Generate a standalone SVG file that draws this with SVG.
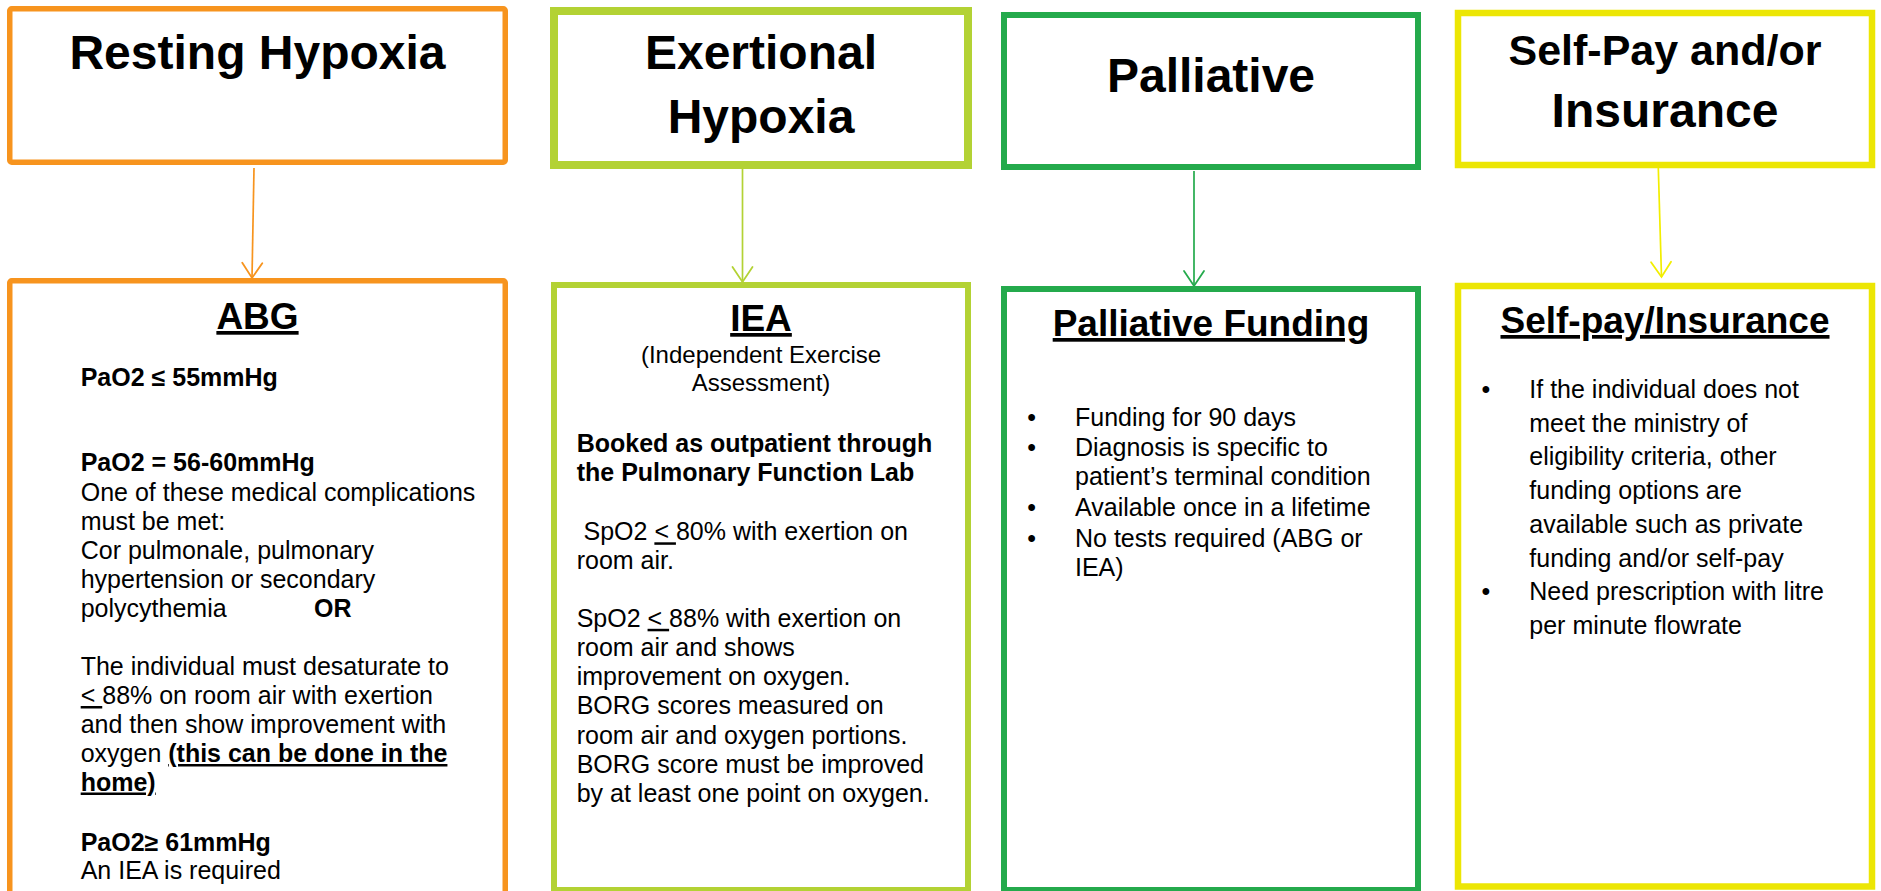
<svg xmlns="http://www.w3.org/2000/svg" width="1881" height="891" viewBox="0 0 1881 891">
  <style>
    text { font-family: "Liberation Sans", Arial, Helvetica, sans-serif; fill: #000; }
    .box { fill: #fff; }
    .orange { stroke: #F7941E; }
    .lime { stroke: #B3D234; }
    .green { stroke: #24AA4C; }
    .yellow { stroke: #ECE604; }
    .head { font-size: 48px; font-weight: bold; text-anchor: middle; }
    .sub { font-size: 37px; font-weight: bold; text-anchor: middle; text-decoration: underline; }
    .body { font-size: 25px; }
    .abg { font-size: 25px; }
    .b { font-weight: bold; }
    .u { text-decoration: underline; }
    .conn { fill: none; stroke-width: 1.7; }
  </style>
  <defs>
    <marker id="arrO" viewBox="-17 -12 19 24" refX="0" refY="0" markerWidth="19" markerHeight="24" markerUnits="userSpaceOnUse" orient="auto">
      <path d="M-15,-10 L0,0 L-15,10" fill="none" stroke="#F7941E" stroke-width="1.8" stroke-linecap="round"/>
    </marker>
    <marker id="arrL" viewBox="-17 -12 19 24" refX="0" refY="0" markerWidth="19" markerHeight="24" markerUnits="userSpaceOnUse" orient="auto">
      <path d="M-15,-10 L0,0 L-15,10" fill="none" stroke="#B3D234" stroke-width="1.8" stroke-linecap="round"/>
    </marker>
    <marker id="arrG" viewBox="-17 -12 19 24" refX="0" refY="0" markerWidth="19" markerHeight="24" markerUnits="userSpaceOnUse" orient="auto">
      <path d="M-15,-10 L0,0 L-15,10" fill="none" stroke="#24AA4C" stroke-width="1.8" stroke-linecap="round"/>
    </marker>
    <marker id="arrY" viewBox="-17 -12 19 24" refX="0" refY="0" markerWidth="19" markerHeight="24" markerUnits="userSpaceOnUse" orient="auto">
      <path d="M-15,-10 L0,0 L-15,10" fill="none" stroke="#F2EE00" stroke-width="1.8" stroke-linecap="round"/>
    </marker>
  </defs>

  <rect width="1881" height="891" fill="#fff"/>

  <!-- Top boxes -->
  <g id="resting-hypoxia">
    <rect class="box orange" x="9.75" y="8.75" width="495.5" height="153.5" rx="2" stroke-width="5.5"/>
    <text class="head" x="257.5" y="69">Resting Hypoxia</text>
  </g>
  <g id="exertional-hypoxia">
    <rect class="box lime" x="554" y="11" width="414" height="154" stroke-width="8"/>
    <text class="head" x="761" y="69">Exertional</text>
    <text class="head" x="761" y="133">Hypoxia</text>
  </g>
  <g id="palliative">
    <rect class="box green" x="1004" y="15" width="414" height="152" stroke-width="6"/>
    <text class="head" x="1211" y="92">Palliative</text>
  </g>
  <g id="self-pay-insurance">
    <rect class="box yellow" x="1458" y="13" width="414" height="152" stroke-width="6.5"/>
    <text class="head" x="1665" y="65" style="font-size:43px">Self-Pay and/or</text>
    <text class="head" x="1665" y="127">Insurance</text>
  </g>

  <!-- Connectors -->
  <g id="connectors">
    <line class="conn" x1="254" y1="168" x2="252" y2="278" stroke="#F7941E" marker-end="url(#arrO)"/>
    <line class="conn" x1="742.5" y1="169" x2="742.5" y2="282" stroke="#B3D234" marker-end="url(#arrL)"/>
    <line class="conn" x1="1194" y1="171" x2="1194" y2="286" stroke="#24AA4C" marker-end="url(#arrG)"/>
    <line class="conn" x1="1658.3" y1="168" x2="1661.5" y2="277" stroke="#F2EE00" marker-end="url(#arrY)"/>
  </g>

  <!-- ABG box -->
  <g id="abg">
    <rect class="box orange" x="9.75" y="280.75" width="495.5" height="640" rx="2" stroke-width="5.5"/>
    <text class="sub" x="257.5" y="329">ABG</text>
    <text class="abg b" x="80.7" y="386">PaO2 ≤ 55mmHg</text>
    <text class="abg b" x="80.7" y="471">PaO2 = 56-60mmHg</text>
    <text class="abg" x="80.7" y="501">One of these medical complications</text>
    <text class="abg" x="80.7" y="530">must be met:</text>
    <text class="abg" x="80.7" y="559">Cor pulmonale, pulmonary</text>
    <text class="abg" x="80.7" y="588">hypertension or secondary</text>
    <text class="abg" x="80.7" y="617">polycythemia</text>
    <text class="abg b" x="314" y="617">OR</text>
    <text class="abg" x="80.7" y="675">The individual must desaturate to</text>
    <text class="abg" x="80.7" y="704"><tspan class="u">&lt; </tspan>88% on room air with exertion</text>
    <text class="abg" x="80.7" y="733">and then show improvement with</text>
    <text class="abg" x="80.7" y="762">oxygen <tspan class="b u">(this can be done in the</tspan></text>
    <text class="abg b u" x="80.7" y="790.5">home)</text>
    <text class="abg b" x="80.7" y="850.5">PaO2≥ 61mmHg</text>
    <text class="abg" x="80.7" y="878.5">An IEA is required</text>
  </g>

  <!-- IEA box -->
  <g id="iea">
    <rect class="box lime" x="554" y="285" width="414" height="605" stroke-width="6"/>
    <text class="sub" x="761" y="331">IEA</text>
    <text class="body" x="761" y="363" text-anchor="middle" style="font-size:24px">(Independent Exercise</text>
    <text class="body" x="761" y="391" text-anchor="middle" style="font-size:24px">Assessment)</text>
    <text class="body b" x="576.7" y="451.5">Booked as outpatient through</text>
    <text class="body b" x="576.7" y="480.7">the Pulmonary Function Lab</text>
    <text class="body" x="583.5" y="540.3">SpO2 <tspan class="u">&lt; </tspan>80% with exertion on</text>
    <text class="body" x="576.7" y="569.2">room air.</text>
    <text class="body" x="576.7" y="626.8">SpO2 <tspan class="u">&lt; </tspan>88% with exertion on</text>
    <text class="body" x="576.7" y="656">room air and shows</text>
    <text class="body" x="576.7" y="685.3">improvement on oxygen.</text>
    <text class="body" x="576.7" y="714">BORG scores measured on</text>
    <text class="body" x="576.7" y="743.5">room air and oxygen portions.</text>
    <text class="body" x="576.7" y="773">BORG score must be improved</text>
    <text class="body" x="576.7" y="802.2">by at least one point on oxygen.</text>
  </g>

  <!-- Palliative Funding box -->
  <g id="palliative-funding">
    <rect class="box green" x="1004" y="289" width="414" height="601" stroke-width="6"/>
    <text class="sub" x="1211" y="336">Palliative Funding</text>
    <text class="body" x="1027.3" y="426">•</text>
    <text class="body" x="1075" y="426">Funding for 90 days</text>
    <text class="body" x="1027.3" y="455.5">•</text>
    <text class="body" x="1075" y="455.5">Diagnosis is specific to</text>
    <text class="body" x="1075" y="485">patient’s terminal condition</text>
    <text class="body" x="1027.3" y="515.8">•</text>
    <text class="body" x="1075" y="515.8">Available once in a lifetime</text>
    <text class="body" x="1027.3" y="546.5">•</text>
    <text class="body" x="1075" y="546.5">No tests required (ABG or</text>
    <text class="body" x="1075" y="576">IEA)</text>
  </g>

  <!-- Self-pay/Insurance box -->
  <g id="self-pay-funding">
    <rect class="box yellow" x="1458" y="286" width="414" height="600.5" stroke-width="6.5"/>
    <text class="sub" x="1665" y="333">Self-pay/Insurance</text>
    <text class="body" x="1481.6" y="398">•</text>
    <text class="body" x="1529.3" y="398">If the individual does not</text>
    <text class="body" x="1529.3" y="431.7">meet the ministry of</text>
    <text class="body" x="1529.3" y="465.4">eligibility criteria, other</text>
    <text class="body" x="1529.3" y="499.1">funding options are</text>
    <text class="body" x="1529.3" y="532.8">available such as private</text>
    <text class="body" x="1529.3" y="566.5">funding and/or self-pay</text>
    <text class="body" x="1481.6" y="600.2">•</text>
    <text class="body" x="1529.3" y="600.2">Need prescription with litre</text>
    <text class="body" x="1529.3" y="633.9">per minute flowrate</text>
  </g>
</svg>
